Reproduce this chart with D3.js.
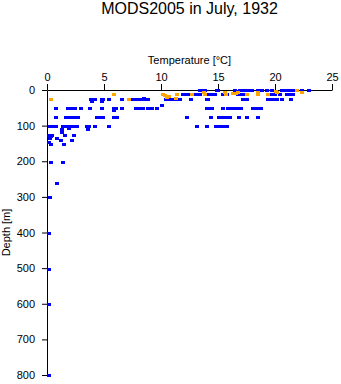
<!DOCTYPE html>
<html>
<head>
<meta charset="utf-8">
<script src="https://cdn.jsdelivr.net/npm/d3@7/dist/d3.min.js"></script>
<style>
  html, body { margin: 0; padding: 0; background: #fff; }
  svg { display: block; font-family: "Liberation Sans", Arial, Helvetica, sans-serif; }
</style>
</head>
<body>
<svg id="chart" width="341" height="384"></svg>
<script>
// Temperature profiles, July 1932 (MODS2005)
const titleText = "MODS2005 in July, 1932";
const xLabel = "Temperature [\u00B0C]";
const yLabel = "Depth [m]";
const tempTicks = [0, 5, 10, 15, 20, 25];
const depthTicks = [0, 100, 200, 300, 400, 500, 600, 700, 800];

// Series 1 (blue): temperature [°C] and depth [m]
const blueTemp = [
  // surface
  13.42, 13.68, 13.86, 14.89, 15.03, 16.49, 16.93, 17.28, 17.63, 17.96, 18.54, 18.86, 19.27, 19.76, 20.59, 20.88, 21.14, 21.40, 21.75, 22.34, 23.00,
  // 10 m
  11.93, 12.19, 12.37, 12.92, 13.16, 13.42, 14.15, 14.39, 14.74, 15.46, 15.82, 16.75, 17.11, 17.37, 17.52, 19.71, 20.00, 20.44, 21.03, 21.32, 21.61,
  // 25 m
  3.83, 3.95, 4.08, 4.21, 4.80, 4.91, 5.41, 6.61, 7.48, 7.68, 7.92, 8.22, 8.51, 8.86, 10.44, 10.66, 10.85, 11.23, 11.45, 11.67, 12.61, 14.04, 14.15, 17.22, 17.37, 17.52, 19.41, 19.65, 19.91, 20.15, 20.59, 21.40,
  3.95, 4.80, 8.51, 10.06,
  // 50 m
  0.79, 1.87, 2.22, 2.46, 3.01, 3.80, 4.85, 5.88, 6.05, 6.55, 7.81, 7.92, 8.16, 8.39, 8.89, 9.18, 9.62, 14.01, 14.30, 14.50, 15.46, 15.90, 16.14, 16.32, 16.49, 16.84, 17.02, 18.10, 18.39, 18.75, 5.88,
  // 75 m
  0.82, 1.69, 1.96, 2.19, 2.46, 2.76, 4.36, 4.56, 4.78, 4.94, 5.88, 6.10, 12.31, 14.36, 15.11, 15.46, 15.75, 16.05, 16.82, 17.52, 18.54,
  // 100 m
  0.26, 0.44, 0.61, 0.79, 1.38, 1.67, 2.02, 2.22, 2.46, 2.66, 3.48, 3.71, 4.25, 5.46, 13.13, 14.01, 14.80, 15.00, 15.18, 15.46, 15.82,
  // deeper
  1.29, 1.96, 3.62, 1.29, 0.18, 0.31, 0.41, 1.58, 2.37, 0.22, 0.90, 1.23, 2.22, 0.20, 0.32, 1.52, 0.32, 1.38, 0.90, 0.29, 0.18, 0.18, 0.18, 0.20
];
const blueDepth = [
  0, 0, 0, 0, 0, 0, 0, 0, 0, 0, 0, 0, 0, 0, 0, 0, 0, 0, 0, 0, 0,
  11, 11, 11, 11, 11, 11, 11, 11, 11, 11, 11, 11, 11, 11, 11, 11, 11, 11, 11, 11, 11,
  26, 26, 26, 26, 26, 26, 26, 26, 26, 26, 26, 26, 26, 26, 26, 26, 26, 26, 26, 26, 26, 26, 26, 26, 26, 26, 26, 26, 26, 26, 26, 26,
  30, 30, 22, 41,
  51, 51, 51, 51, 51, 51, 51, 51, 51, 51, 51, 51, 51, 51, 51, 51, 51, 51, 51, 51, 51, 51, 51, 51, 51, 51, 51, 51, 51, 51, 56,
  77, 77, 77, 77, 77, 77, 77, 77, 77, 77, 77, 77, 77, 77, 77, 77, 77, 77, 77, 77, 77,
  102, 102, 102, 102, 102, 102, 102, 102, 102, 102, 102, 102, 102, 102, 102, 102, 102, 102, 102, 102, 102,
  110, 108, 110, 117, 126, 129, 126, 126, 126, 136, 136, 140, 140, 145, 152, 152, 201, 201, 262, 301, 400, 502, 600, 800
];

// Series 2 (orange): temperature [°C] and depth [m]
const orangeTemp = [0.32, 5.88, 7.17, 10.20, 10.39, 10.53, 10.70, 10.50, 11.38, 11.30, 12.69, 13.77, 13.86, 15.61, 15.68, 16.32, 16.55, 16.75, 17.52, 18.51, 18.54, 19.36, 20.09, 20.15, 21.90, 22.34];
const orangeDepth = [26, 12, 26, 11, 14, 17, 17, 20, 11, 22, 11, 6, 11, 6, 11, 8, 8, 6, 11, 6, 11, 11, 3, 6, 1, 6];

const svg = d3.select("#chart");
const margin = { left: 47, top: 90, right: 9, bottom: 9 };
const width = 341, height = 384;

const x = d3.scaleLinear().domain([0, 25]).range([margin.left, width - margin.right]);
const y = d3.scaleLinear().domain([0, 800]).range([margin.top, height - margin.bottom]);

// title
svg.append("text")
  .attr("x", (x(0) + x(25)) / 2)
  .attr("y", 14)
  .attr("text-anchor", "middle")
  .style("font-size", "16px")
  .text(titleText);

// x axis along the top
const xAxis = svg.append("g")
  .attr("transform", `translate(0,${y(0)})`)
  .call(d3.axisTop(x).tickValues(tempTicks).tickSize(6).tickSizeOuter(0).tickFormat(d3.format("d")));
xAxis.selectAll("text").style("font-size", "11px").attr("dy", "0").attr("y", -9);

svg.append("text")
  .attr("x", (x(0) + x(25)) / 2)
  .attr("y", 64)
  .attr("text-anchor", "middle")
  .style("font-size", "11px")
  .text(xLabel);

// y axis on the left
const yAxis = svg.append("g")
  .attr("transform", `translate(${x(0)},0)`)
  .call(d3.axisLeft(y).tickValues(depthTicks).tickSize(5).tickSizeOuter(0).tickFormat(d3.format("d")));
yAxis.selectAll("text").style("font-size", "11px").attr("x", -12);

svg.append("text")
  .attr("transform", `translate(10,${(y(0) + y(800)) / 2}) rotate(-90)`)
  .attr("text-anchor", "middle")
  .style("font-size", "11px")
  .text(yLabel);

svg.selectAll(".domain, .tick line").attr("stroke", "#000").attr("stroke-width", 1);
svg.selectAll(".tick text").attr("fill", "#000");

// markers
function drawSeries(temps, depths, color) {
  const pts = temps.map((t, i) => ({ t, d: depths[i] }));
  svg.append("g")
    .attr("shape-rendering", "crispEdges")
    .selectAll("rect")
    .data(pts)
    .join("rect")
    .attr("x", p => Math.round(x(p.t)) - 2)
    .attr("y", p => Math.round(y(p.d)) - 1.5)
    .attr("width", 4)
    .attr("height", 3)
    .attr("fill", color);
}
drawSeries(blueTemp, blueDepth, "#0000ff");
drawSeries(orangeTemp, orangeDepth, "#ffa500");
</script>
</body>
</html>
